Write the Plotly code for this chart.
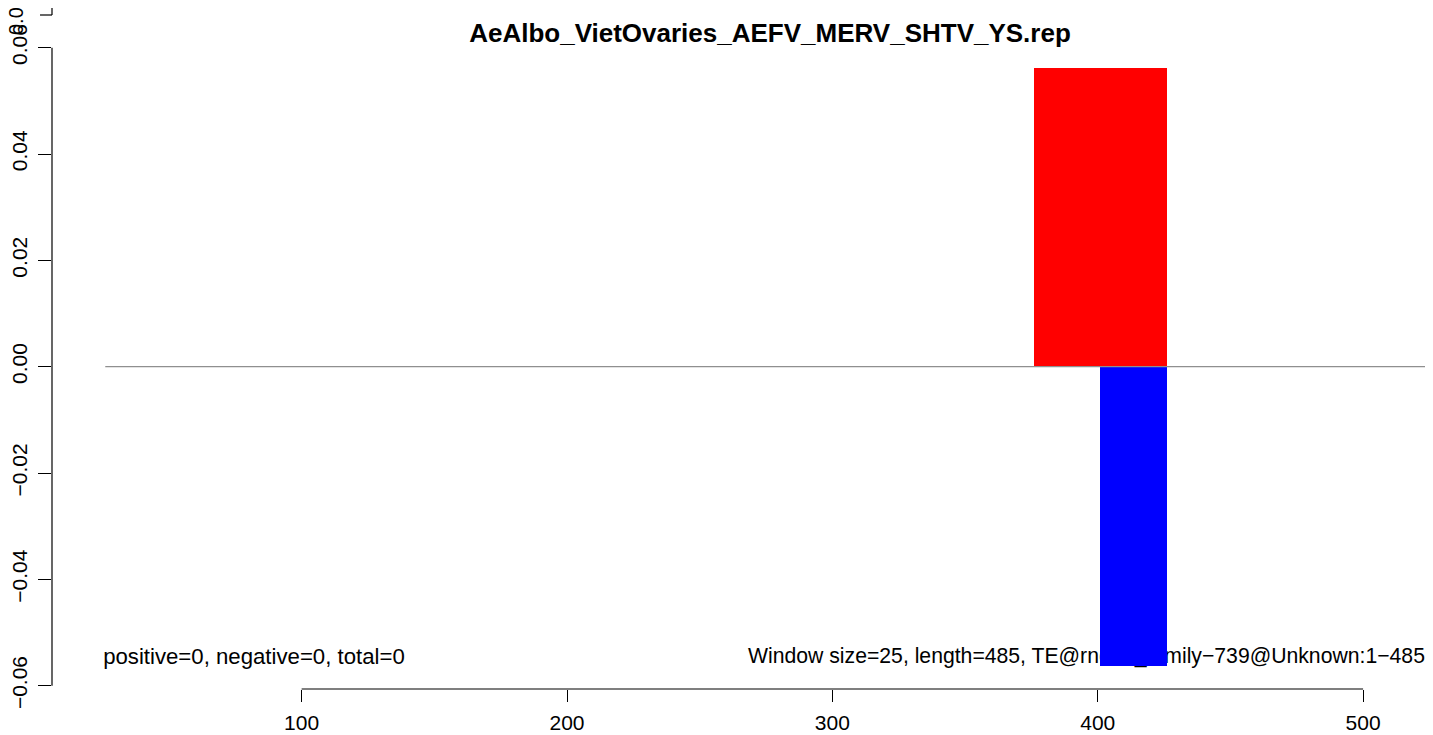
import plotly.graph_objects as go

# ---- data ----
title_text = "AeAlbo_VietOvaries_AEFV_MERV_SHTV_YS.rep"
pos_start = [376]
pos_end = [426]
pos_value = [0.0562]
neg_start = [401]
neg_end = [426]
neg_value = [-0.0562]
baseline_x = [26, 540]
baseline_y = [0, 0]
x_ticks = [100, 200, 300, 400, 500]
y_ticks = [-0.06, -0.04, -0.02, 0.0, 0.02, 0.04, 0.06]
y_ticktext = ["\u22120.06", "\u22120.04", "\u22120.02", "0.00", "0.02", "0.04", "0.06"]
left_note = "positive=0, negative=0, total=0"
right_note = "Window size=25, length=485, TE@rnd\u22121_family\u2212739@Unknown:1\u2212485"
note_x = [25.2, 523.3]
note_y = -0.0548

FONT = "Liberation Sans, Arial, Helvetica, sans-serif"
XR = [5.925, 526.34]
YR = [-0.06062, 0.06596]

# page body has an 8px margin: plot spans page x 50..1433, y 16..689
OFF = 8
W, Hfig = 1433 - OFF, 735 - OFF
ML, MT, MB = 50 - OFF, 16 - OFF, Hfig - (689 - OFF)

fig = go.Figure()

# notes on the base axes (drawn beneath the overlaid bar axes)
fig.add_trace(go.Scatter(x=[note_x[0]], y=[note_y], mode="text", text=[left_note],
                         textposition="middle right", cliponaxis=False,
                         textfont=dict(family=FONT, size=22.2, color="black"),
                         hoverinfo="skip", showlegend=False))
fig.add_trace(go.Scatter(x=[note_x[1]], y=[note_y], mode="text", text=[right_note],
                         textposition="middle left", cliponaxis=False,
                         textfont=dict(family=FONT, size=21.2, color="black"),
                         hoverinfo="skip", showlegend=False))

fig.add_trace(go.Bar(x=[(a + b) / 2 for a, b in zip(pos_start, pos_end)],
                     y=pos_value, width=[b - a for a, b in zip(pos_start, pos_end)],
                     marker=dict(color="#FF0000", line=dict(width=0)), showlegend=False,
                     xaxis="x2", yaxis="y2"))
fig.add_trace(go.Bar(x=[(a + b) / 2 for a, b in zip(neg_start, neg_end)],
                     y=neg_value, width=[b - a for a, b in zip(neg_start, neg_end)],
                     marker=dict(color="#0000FF", line=dict(width=0)), showlegend=False,
                     xaxis="x2", yaxis="y2"))
fig.add_trace(go.Scatter(x=baseline_x, y=baseline_y, mode="lines",
                         line=dict(color="#8f8f8f", width=1.2),
                         hoverinfo="skip", showlegend=False, xaxis="x2", yaxis="y2"))

PH = 689 - 16
PW = 1433 - 50


def py(p):
    return (689 - p) / PH


shapes = [
    dict(type="line", xref="paper", yref="y", x0=0, x1=0, y0=y_ticks[0], y1=y_ticks[-1],
         line=dict(color="black", width=1.2)),
    dict(type="line", xref="x", yref="paper", x0=x_ticks[0], x1=x_ticks[-1], y0=0, y1=0,
         line=dict(color="black", width=1.2)),
    # stray axis fragment at the top-left
    dict(type="line", xref="paper", yref="paper", x0=0, x1=0, y0=py(15), y1=py(-2),
         line=dict(color="black", width=1.2)),
    dict(type="line", xref="paper", yref="paper", x0=-12 / PW, x1=0, y0=py(15), y1=py(15),
         line=dict(color="black", width=1.2)),
]

annotations = [
    dict(text="0.0", xref="paper", yref="paper", x=-36 / PW, y=py(21), textangle=-90,
         showarrow=False, xanchor="center", yanchor="middle",
         font=dict(family=FONT, size=20, color="black")),
]

axis_common = dict(showline=False, showgrid=False, zeroline=False)

fig.update_layout(
    width=W, height=Hfig, autosize=False,
    margin=dict(l=ML, r=0, t=MT, b=MB, pad=0),
    paper_bgcolor="white", plot_bgcolor="white",
    barmode="overlay", bargap=0,
    shapes=shapes, annotations=annotations,
    title=dict(text="<b>" + title_text + "</b>", x=(770 - OFF) / W, xref="container",
               xanchor="center", y=1 - (33 - OFF) / Hfig, yanchor="middle",
               font=dict(family=FONT, size=26, color="black")),
    xaxis=dict(range=XR, tickvals=x_ticks, ticktext=[str(v) for v in x_ticks],
               ticks="outside", ticklen=12, tickwidth=1.2, tickcolor="black",
               ticklabelstandoff=3,
               tickfont=dict(family=FONT, size=21, color="black"), **axis_common),
    yaxis=dict(range=YR, tickvals=y_ticks, ticktext=y_ticktext,
               tickangle=-90, ticks="outside", ticklen=13, tickwidth=1.2, tickcolor="black",
               ticklabelstandoff=3,
               tickfont=dict(family=FONT, size=21, color="black"), **axis_common),
    xaxis2=dict(range=XR, overlaying="x", visible=False, **axis_common),
    yaxis2=dict(range=YR, overlaying="y", visible=False, **axis_common),
)

fig.write_html("out.html")
